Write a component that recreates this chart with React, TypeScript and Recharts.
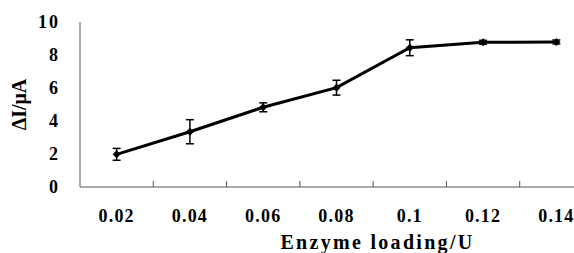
import { LineChart, Line, XAxis, YAxis, ErrorBar } from 'recharts'

const loadings = [0.02, 0.04, 0.06, 0.08, 0.1, 0.12, 0.14]
const loadingLabels = ['0.02', '0.04', '0.06', '0.08', '0.1', '0.12', '0.14']
const current = [1.98, 3.35, 4.83, 6.02, 8.44, 8.77, 8.79]
const currentErr = [0.36, 0.73, 0.27, 0.45, 0.48, 0.12, 0.12]
const xDomain = [0.01, 0.15]
const xMarks = [0.03, 0.05, 0.07, 0.09, 0.11, 0.13]
const yTicks = [0, 2, 4, 6, 8, 10]

const chartData = loadings.map((x, i) => ({ x, y: current[i], err: currentErr[i] }))

const txt = { fontFamily: 'Liberation Serif', fontWeight: 'bold' as const, fill: '#000' }

// diamond marker
function Diamond(p: any) {
  const { cx, cy, index } = p
  if (cx == null || cy == null) return <g key={`d-${index}`} />
  const r = 4
  return (
    <path
      key={`d-${index}`}
      d={`M${cx},${cy - r}L${cx + r},${cy}L${cx},${cy + r}L${cx - r},${cy}Z`}
      fill="#000"
    />
  )
}

const Empty = () => <g />

function XTick({ x, y, payload }: any) {
  const i = loadings.findIndex((l) => Math.abs(l - payload.value) < 1e-6)
  return (
    <text x={x} y={y} dy={12} textAnchor="middle" style={{ ...txt, fontSize: 18, letterSpacing: 1.2 }}>
      {loadingLabels[i]}
    </text>
  )
}

function YTick({ x, y, payload }: any) {
  return (
    <text x={x} y={y} dy={6} textAnchor="end" style={{ ...txt, fontSize: 18, letterSpacing: 2 }}>
      {payload.value}
    </text>
  )
}

function XTitle({ viewBox }: any) {
  return (
    <text x={viewBox.x + viewBox.width / 2 + 41} y={249} textAnchor="middle" style={{ ...txt, fontSize: 20, letterSpacing: 2.3 }}>
      Enzyme loading/U
    </text>
  )
}

function YTitle({ viewBox }: any) {
  const cx = 26
  const cy = viewBox.y + viewBox.height / 2
  return (
    <text x={cx} y={cy} transform={`rotate(-90 ${cx} ${cy})`} textAnchor="middle" style={{ ...txt, fontSize: 20 }}>
      ΔI/μA
    </text>
  )
}

export default function App() {
  return (
    <div style={{ position: 'absolute', left: 0, top: 0, width: 574, height: 253, overflow: 'hidden', background: '#fff' }}>
      <LineChart width={593} height={253} data={chartData} margin={{ top: 22, right: 0, bottom: 0, left: 0 }}>
        <XAxis
          xAxisId="main"
          dataKey="x"
          type="number"
          domain={xDomain}
          ticks={loadings}
          allowDataOverflow
          height={66}
          axisLine={false}
          tickLine={false}
          tickSize={6}
          tickMargin={17}
          tick={XTick}
          label={XTitle}
        />
        <XAxis
          xAxisId="marks"
          dataKey="x"
          type="number"
          domain={xDomain}
          ticks={xMarks}
          allowDataOverflow
          mirror
          height={1}
          tickSize={6}
          tick={Empty}
          axisLine={{ stroke: '#555', strokeWidth: 1 }}
          tickLine={{ stroke: '#555', strokeWidth: 1 }}
        />
        <YAxis
          yAxisId="main"
          domain={[0, 10]}
          ticks={yTicks}
          width={80}
          axisLine={false}
          tickLine={false}
          tickSize={6}
          tickMargin={14}
          tick={YTick}
          label={YTitle}
        />
        <YAxis
          yAxisId="marks"
          domain={[0, 10]}
          ticks={yTicks}
          mirror
          width={1}
          tickSize={6}
          tick={Empty}
          axisLine={{ stroke: '#555', strokeWidth: 1 }}
          tickLine={{ stroke: '#555', strokeWidth: 1 }}
        />
        <Line
          xAxisId="main"
          yAxisId="main"
          dataKey="y"
          stroke="#000"
          strokeWidth={3}
          dot={Diamond}
          activeDot={false}
          isAnimationActive={false}
        >
          <ErrorBar dataKey="err" direction="y" width={4} stroke="#000" strokeWidth={1.5} isAnimationActive={false} />
        </Line>
      </LineChart>
    </div>
  )
}
